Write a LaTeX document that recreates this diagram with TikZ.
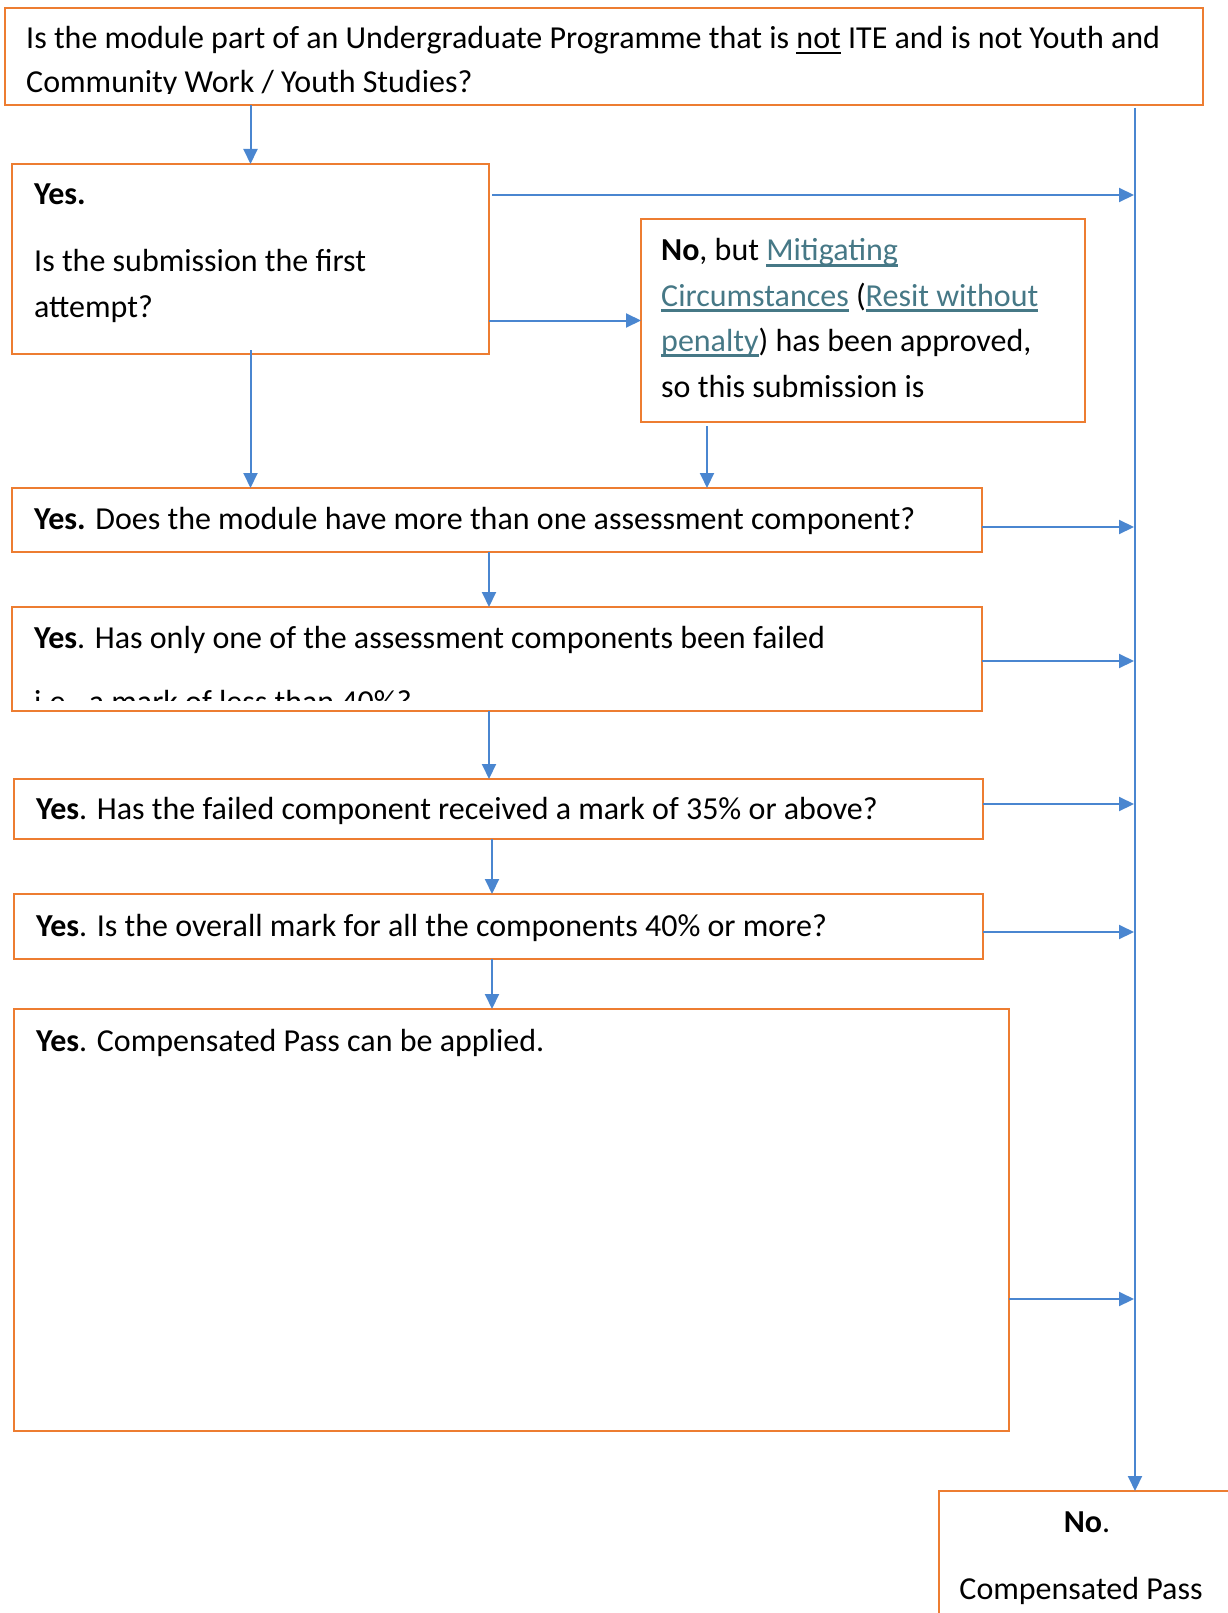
\documentclass[tikz,border=0pt]{standalone}
\usepackage{fontspec}
\setmainfont{Carlito}
\usetikzlibrary{arrows.meta}

\definecolor{boxorange}{RGB}{237,125,49}
\definecolor{flowblue}{RGB}{74,134,208}
\definecolor{linkteal}{RGB}{70,120,134}

% underline with chosen thickness (#2) and depth below baseline (#3)
\newsavebox{\ulbox}
\newcommand{\myul}[3]{\sbox{\ulbox}{#1}\leavevmode\rlap{\rule[-#3]{\wd\ulbox}{#2}}\usebox{\ulbox}}
% underlined hyperlink-style text
\newcommand{\hlink}[1]{{\color{linkteal}\myul{#1}{2.6pt}{6pt}}}
\newcommand{\plainul}[1]{\myul{#1}{2pt}{5.5pt}}

\begin{document}
\begin{tikzpicture}[x=1pt,y=-1pt,
  qbox/.style={draw=boxorange, line width=2.4pt, rectangle, anchor=north west, inner sep=0pt, outer sep=0pt},
  txt/.style={anchor=base west, inner sep=0pt, font=\fontsize{32}{45}\selectfont},
  ctxt/.style={anchor=base, inner sep=0pt, font=\fontsize{32}{45}\selectfont},
  flow/.style={draw=flowblue, line width=2pt, -{Triangle[length=15pt,width=14pt]}},
]
\useasboundingbox (0,0) rectangle (1227,1613);

% ---- boxes ----
\node[qbox, minimum width=1198pt, minimum height=97pt]  (q0)      at (5,8) {};
\node[qbox, minimum width=477pt,  minimum height=190pt] (yes)     at (12,164) {};
\node[qbox, minimum width=444pt,  minimum height=203pt] (mit)     at (641,219) {};
\node[qbox, minimum width=970pt,  minimum height=64pt]  (multi)   at (12,488) {};
\node[qbox, minimum width=970pt,  minimum height=104pt] (onefail) at (12,607) {};
\node[qbox, minimum width=969pt,  minimum height=60pt]  (above)   at (14,779) {};
\node[qbox, minimum width=969pt,  minimum height=65pt]  (overall) at (14,894) {};
\node[qbox, minimum width=995pt,  minimum height=422pt] (comp)    at (14,1009) {};
\node[qbox, minimum width=400pt,  minimum height=300pt] (nobox)   at (939,1491) {};

% ---- texts ----
\node[txt] (q0a) at (26,49) {Is the module part of an Undergraduate Programme that is \plainul{not} ITE and is not Youth and};
\begin{scope}
  \clip (0,55) rectangle (1227,94);
  \node[txt] (q0b) at (26,93) {Community Work / Youth Studies?};
\end{scope}

\node[txt] (yesa) at (34,205) {\textbf{Yes.}};
\node[txt] (yesb) at (34,271) {Is the submission the first};
\node[txt] (yesc) at (34,317) {attempt?};

\node[txt] (mita) at (661,261) {\textbf{No}, but \hlink{Mitigating}};
\node[txt] (mitb) at (661,306) {\hlink{Circumstances} (\hlink{Resit without}};
\node[txt] (mitc) at (661,351) {\hlink{penalty}) has been approved,};
\node[txt] (mitd) at (661,397) {so this submission is};

\node[txt] (multia) at (34,529) {\textbf{Yes.} Does the module have more than one assessment component?};

\node[txt] (onea) at (34,648) {\textbf{Yes}. Has only one of the assessment components been failed};
\begin{scope}
  \clip (0,660) rectangle (1227,700);
  \node[txt] (oneb) at (34,712) {i.e., a mark of less than 40\%?};
\end{scope}

\node[txt] (abovea)   at (36,819)  {\textbf{Yes}. Has the failed component received a mark of 35\% or above?};
\node[txt] (overalla) at (36,936)  {\textbf{Yes}. Is the overall mark for all the components 40\% or more?};
\node[txt] (compa)    at (36,1051) {\textbf{Yes}. Compensated Pass can be applied.};

\node[ctxt] (noa) at (1087,1532) {\textbf{No}.};
\node[ctxt] (nob) at (1081,1599) {Compensated Pass};

% ---- spine and branch points ----
\coordinate (spinetop) at (1135,108);
\coordinate (s1) at (1134,195);
\coordinate (s3) at (1134,527);
\coordinate (s4) at (1134,661);
\coordinate (s5) at (1134,804);
\coordinate (s6) at (1134,932);
\coordinate (s7) at (1134,1299);
\coordinate (mitdrop) at (707,426);
\coordinate (colA) at (489,0);
\coordinate (colB) at (492,0);

% ---- connectors ----
\draw[flow] (spinetop) -- (nobox.north -| spinetop);
\draw[flow] (q0.south -| yes.north) -- (yes.north);
\draw[flow] ([xshift=3pt]yes.east |- s1) -- (s1);
\draw[flow] (yes.east |- mit.west) -- (mit.west);
\draw[flow] ([yshift=4pt]yes.south) -- (multi.north -| yes.south);
\draw[flow] (mitdrop) -- (multi.north -| mitdrop);
\draw[flow] (multi.east |- s3) -- (s3);
\draw[flow] (multi.south -| colA) -- (onefail.north -| colA);
\draw[flow] (onefail.east |- s4) -- (s4);
\draw[flow] (onefail.south -| colA) -- (above.north -| colA);
\draw[flow] (above.east |- s5) -- (s5);
\draw[flow] (above.south -| colB) -- (overall.north -| colB);
\draw[flow] (overall.east |- s6) -- (s6);
\draw[flow] (overall.south -| colB) -- (comp.north -| colB);
\draw[flow] (comp.east |- s7) -- (s7);
\end{tikzpicture}
\end{document}
